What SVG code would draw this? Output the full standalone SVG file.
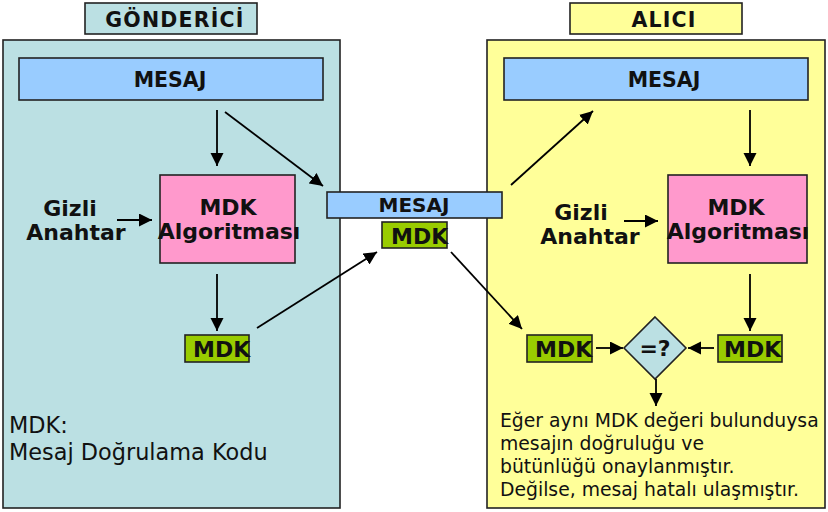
<svg xmlns="http://www.w3.org/2000/svg" width="828" height="512" viewBox="0 0 828 512">
<defs>
<marker id="ah" markerUnits="userSpaceOnUse" markerWidth="14" markerHeight="14" refX="13" refY="6.5" orient="auto">
<path d="M0,0 L13,6.5 L0,13 z" fill="#000"/>
</marker>
<style>
.t{font-family:"DejaVu Sans","Liberation Sans",sans-serif;fill:#111;}
.b{font-weight:bold;}
.box{stroke:#222;stroke-width:1.6;}
.blue{fill:#bbe0e3;}
.yel{fill:#ffff99;}
.msg{fill:#99ccff;}
.pink{fill:#ff99cc;}
.grn{fill:#99cc00;}
.c{stroke:#000;stroke-width:1.8;fill:none;marker-end:url(#ah);}
</style>
</defs>
<rect width="828" height="512" fill="#fff"/>

<g id="sender">
<rect class="box blue" x="3" y="40" width="337" height="468"/>
<rect class="box blue" x="85" y="3" width="172" height="31"/>
<text class="t b" x="175" y="27" font-size="20.5" letter-spacing="1.2" text-anchor="middle">GÖNDERİCİ</text>
</g>
<g id="receiver">
<rect class="box yel" x="487" y="40" width="338" height="468"/>
<rect class="box yel" x="570" y="3" width="172" height="31"/>
<text class="t b" x="664" y="27" font-size="20.5" letter-spacing="1.2" text-anchor="middle">ALICI</text>
</g>

<g id="s-mesaj">
<rect class="box msg" x="19" y="58" width="304" height="42"/>
<text class="t b" x="170" y="87" font-size="20.5" text-anchor="middle">MESAJ</text>
</g>
<g id="s-algo">
<rect class="box pink" x="160" y="175" width="135" height="88"/>
<text class="t b" x="228" y="215" font-size="22" text-anchor="middle">MDK</text>
<text class="t b" x="229" y="239" font-size="22" text-anchor="middle">Algoritması</text>
</g>
<g id="s-key">
<text class="t b" x="70" y="216" font-size="22" text-anchor="middle">Gizli</text>
<text class="t b" x="76" y="240" font-size="22" text-anchor="middle">Anahtar</text>
</g>
<g id="s-mdk">
<rect class="box grn" x="185" y="335" width="64" height="27"/>
<text class="t b" x="193" y="357" font-size="22">MDK</text>
</g>
<g id="legend">
<text class="t" x="9" y="433" font-size="22.4">MDK:</text>
<text class="t" x="9" y="460" font-size="22.4">Mesaj Doğrulama Kodu</text>
</g>

<g id="m-mesaj">
<rect class="box msg" x="327" y="192" width="175" height="26"/>
<text class="t b" x="414" y="212" font-size="20" text-anchor="middle">MESAJ</text>
</g>
<g id="m-mdk">
<rect class="box grn" x="382" y="222" width="65" height="26"/>
<text class="t b" x="391" y="244" font-size="22">MDK</text>
</g>

<g id="r-mesaj">
<rect class="box msg" x="504" y="58" width="304" height="42"/>
<text class="t b" x="664" y="87" font-size="20.5" text-anchor="middle">MESAJ</text>
</g>
<g id="r-algo">
<rect class="box pink" x="668" y="175" width="139" height="88"/>
<text class="t b" x="736" y="215" font-size="22" text-anchor="middle">MDK</text>
<text class="t b" x="738" y="239" font-size="22" text-anchor="middle">Algoritması</text>
</g>
<g id="r-key">
<text class="t b" x="581" y="220" font-size="22" text-anchor="middle">Gizli</text>
<text class="t b" x="590" y="244" font-size="22" text-anchor="middle">Anahtar</text>
</g>
<g id="r-mdk1">
<rect class="box grn" x="527" y="335" width="65" height="27"/>
<text class="t b" x="535" y="357" font-size="22">MDK</text>
</g>
<g id="r-mdk2">
<rect class="box grn" x="718" y="335" width="64" height="27"/>
<text class="t b" x="724" y="357" font-size="22">MDK</text>
</g>
<g id="compare">
<path class="box blue" d="M655,317 L686,348 L655,379 L624,348 z"/>
<text class="t b" x="655" y="356" font-size="22" text-anchor="middle">=?</text>
</g>
<g id="result">
<text class="t" x="500" y="427" font-size="18.8">Eğer aynı MDK değeri bulunduysa</text>
<text class="t" x="500" y="450" font-size="18.8">mesajın doğruluğu ve</text>
<text class="t" x="500" y="473" font-size="18.8">bütünlüğü onaylanmıştır.</text>
<text class="t" x="500" y="496" font-size="18.8">Değilse, mesaj hatalı ulaşmıştır.</text>
</g>

<g id="connectors">
<line class="c" x1="217" y1="110" x2="217" y2="166"/>
<line class="c" x1="225" y1="112" x2="323" y2="186"/>
<line class="c" x1="117" y1="220" x2="152" y2="220"/>
<line class="c" x1="217" y1="274" x2="217" y2="331"/>
<line class="c" x1="257" y1="328" x2="377" y2="252"/>
<line class="c" x1="511" y1="185" x2="593" y2="111"/>
<line class="c" x1="750" y1="110" x2="750" y2="166"/>
<line class="c" x1="624" y1="221" x2="658" y2="221"/>
<line class="c" x1="750" y1="274" x2="750" y2="331"/>
<line class="c" x1="451" y1="252" x2="522" y2="329"/>
<line class="c" x1="596" y1="348" x2="623" y2="348"/>
<line class="c" x1="714" y1="348" x2="688" y2="348"/>
<line class="c" x1="656" y1="379" x2="656" y2="406"/>
</g>
</svg>
